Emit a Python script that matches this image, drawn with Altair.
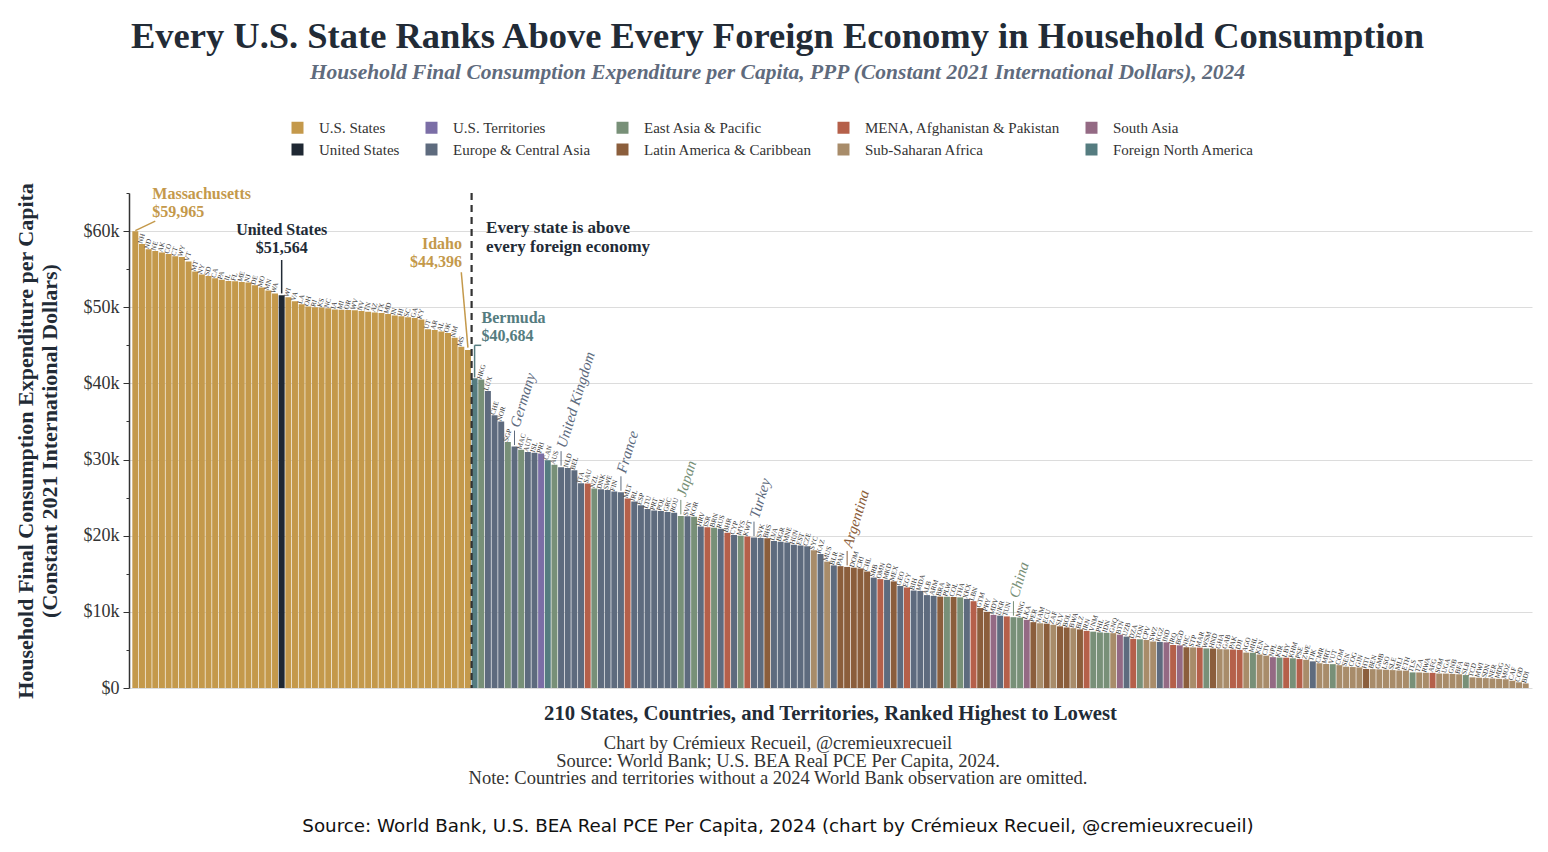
import altair as alt
import pandas as pd

# ---------------- data ----------------
state_codes = ["MA","NH","ND","NE","AK","CO","CT","WY","VT","MT",
               "NY","SD","CA","PA","IL","FL","ME","NJ","DE","MO",
               "MN","WA","US","WI","VA","LA","OH","RI","KS","NC",
               "IA","MI","OR","WV","NV","TN","AZ","TX","MD","IN",
               "HI","SC","GA","KY","UT","AR","AL","OK","NM","MS","ID"]
state_values = [59965, 58300, 57600, 57400, 57200, 57000, 56700, 56600, 56000, 54700,
                54300, 54100, 53800, 53600, 53450, 53400, 53300, 53250, 52900, 52600,
                52200, 51800, 51564, 51300, 50800, 50400, 50100, 50000, 49950, 49850,
                49700, 49680, 49650, 49600, 49500, 49400, 49300, 49250, 49100, 48900,
                48800, 48700, 48600, 48400, 47100, 47000, 46800, 46600, 46000, 44800, 44396]

foreign_codes = ["BMU","HKG","LUX","CHE","NOR","SGP","DEU","MAC","AUT","ISL",
                 "PRI","CAN","AUS","GBR","NLD","BEL","ITA","SAU","NZL","DNK",
                 "SWE","FIN","FRA","MLT","IRL","ESP","LTU","PRT","POL","GRC",
                 "ROU","JPN","SVN","KOR","HRV","ISR","BRN","RUS","BHR","CYP",
                 "MYS","KWT","TUR","SVK","BHS","LVA","BGR","MNE","HUN","EST",
                 "CZE","SYC","KAZ","MUS","BLR","PAN","ARG","DOM","CRI","CHL",
                 "SRB","OMN","MKD","MEX","GEO","EGY","BIH","MDA","ALB","ARM",
                 "BRA","PLW","COL","THA","XKX","LBN","GTM","PRY","MDV","UKR",
                 "TUN","CHN","MNG","LKA","PER","NAM","ECU","ZAF","SLV","BOL",
                 "BWA","BLZ","IRN","VNM","PHL","IDN","GNQ","BTN","UZB","DZA",
                 "TON","CPV","SWZ","KGZ","IND","IRQ","BGD","NIC","STP","MAR",
                 "WSM","HND","GHA","GAB","PAK","DJI","AGO","MHL","KEN","CIV",
                 "NPL","KIR","LBY","KHM","PSE","ZWE","TJK","CMR","MRT","VUT",
                 "COM","SEN","COG","GIN","HTI","BEN","GMB","LSO","SLE","MLI",
                 "ETH","TLS","TZA","RWA","AFG","SOM","UGA","GNB","BFA","SLB",
                 "TCD","MWI","SDN","NER","MDG","MOZ","CAF","COD","BDI"]
foreign_values = [40684, 40500, 39000, 35800, 35000, 32300, 31700, 31300, 31000, 30900,
                  30800, 29900, 29300, 29000, 28900, 28600, 26900, 26850, 26200, 26100,
                  26000, 25800, 25700, 24900, 24500, 24000, 23500, 23300, 23250, 23100,
                  23000, 22600, 22550, 22500, 21200, 21100, 21050, 20900, 20400, 20100,
                  20000, 19900, 19750, 19700, 19650, 19300, 19200, 19100, 18800, 18700,
                  18600, 18100, 17600, 16600, 16100, 16000, 15900, 15800, 15700, 15300,
                  14500, 14300, 14200, 14000, 13400, 13200, 12800, 12750, 12200, 12100,
                  12000, 11980, 11950, 11900, 11700, 11400, 10500, 10000, 9600, 9500,
                  9400, 9300, 9250, 8950, 8650, 8500, 8450, 8300, 8100, 7950,
                  7850, 7700, 7500, 7400, 7300, 7250, 7200, 7000, 6750, 6450,
                  6400, 6300, 6100, 6050, 6000, 5650, 5600, 5350, 5330, 5300,
                  5200, 5180, 5100, 5080, 5050, 5000, 4650, 4630, 4400, 4250,
                  4050, 4000, 3980, 3900, 3800, 3700, 3500, 3250, 3150, 3130,
                  3000, 2800, 2750, 2700, 2500, 2480, 2450, 2400, 2350, 2300,
                  2280, 2050, 2040, 2000, 1990, 1900, 1890, 1850, 1800, 1700,
                  1400, 1350, 1300, 1250, 1200, 1150, 950, 750, 600]
foreign_regions = ["FNA","EAP","ECA","ECA","ECA","EAP","ECA","EAP","ECA","ECA",
                   "TER","FNA","EAP","ECA","ECA","ECA","ECA","MNA","EAP","ECA",
                   "ECA","ECA","ECA","MNA","ECA","ECA","ECA","ECA","ECA","ECA",
                   "ECA","EAP","ECA","EAP","ECA","MNA","EAP","ECA","MNA","ECA",
                   "EAP","MNA","ECA","ECA","LAC","ECA","ECA","ECA","ECA","ECA",
                   "ECA","SSA","ECA","SSA","ECA","LAC","LAC","LAC","LAC","LAC",
                   "ECA","MNA","ECA","LAC","ECA","MNA","ECA","ECA","ECA","ECA",
                   "LAC","EAP","LAC","EAP","ECA","MNA","LAC","LAC","SAS","ECA",
                   "MNA","EAP","EAP","SAS","LAC","SSA","LAC","SSA","LAC","LAC",
                   "SSA","LAC","MNA","EAP","EAP","EAP","SSA","SAS","ECA","MNA",
                   "EAP","SSA","SSA","ECA","SAS","MNA","SAS","LAC","SSA","MNA",
                   "EAP","LAC","SSA","SSA","MNA","MNA","SSA","EAP","SSA","SSA",
                   "SAS","EAP","MNA","EAP","MNA","SSA","ECA","SSA","SSA","EAP",
                   "SSA","SSA","SSA","SSA","LAC","SSA","SSA","SSA","SSA","SSA",
                   "SSA","EAP","SSA","SSA","MNA","SSA","SSA","SSA","SSA","EAP",
                   "SSA","SSA","SSA","SSA","SSA","SSA","SSA","SSA","SSA"]

region_names = {"STA": "U.S. States", "USA": "United States", "TER": "U.S. Territories",
                "ECA": "Europe & Central Asia", "EAP": "East Asia & Pacific",
                "LAC": "Latin America & Caribbean", "MNA": "MENA, Afghanistan & Pakistan",
                "SSA": "Sub-Saharan Africa", "SAS": "South Asia", "FNA": "Foreign North America"}
# legend fills column by column (2 rows x 5 columns)
legend_order = ["U.S. States", "United States",
                "U.S. Territories", "Europe & Central Asia",
                "East Asia & Pacific", "Latin America & Caribbean",
                "MENA, Afghanistan & Pakistan", "Sub-Saharan Africa",
                "South Asia", "Foreign North America"]
legend_colors = ["#C4994B", "#1F2833",
                 "#7B6EA6", "#5E6B7E",
                 "#789078", "#8B5E3C",
                 "#B5604A", "#A88C6A",
                 "#946A84", "#557C80"]

big_labels = {"DEU": "Germany", "GBR": "United Kingdom", "FRA": "France", "JPN": "Japan",
              "TUR": "Turkey", "ARG": "Argentina", "CHN": "China"}
callouts = {"MA": "Massachusetts", "US": "United States", "ID": "Idaho", "BMU": "Bermuda"}

title_text = "Every U.S. State Ranks Above Every Foreign Economy in Household Consumption"
subtitle_text = "Household Final Consumption Expenditure per Capita, PPP (Constant 2021 International Dollars), 2024"
x_title = "210 States, Countries, and Territories, Ranked Highest to Lowest"
y_title = ["Household Final Consumption Expenditure per Capita", "(Constant 2021 International Dollars)"]
caption_lines = ["Chart by Crémieux Recueil, @cremieuxrecueil",
                 "Source: World Bank; U.S. BEA Real PCE Per Capita, 2024.",
                 "Note: Countries and territories without a 2024 World Bank observation are omitted."]
footer_text = "Source: World Bank, U.S. BEA Real PCE Per Capita, 2024 (chart by Crémieux Recueil, @cremieuxrecueil)"
divider_text = ["Every state is above", "every foreign economy"]

# ---------------- table ----------------
codes = state_codes + foreign_codes
values = state_values + foreign_values
regions = ["USA" if c == "US" else "STA" for c in state_codes] + foreign_regions
rows = []
for i, (c, v, r) in enumerate(zip(codes, values, regions)):
    if c in callouts:
        kind, label = "callout", callouts[c]
    elif c in big_labels:
        kind, label = "big", big_labels[c]
    else:
        kind, label = "code", c
    rows.append({"rank": i, "code": c, "value": v, "region": region_names[r],
                 "kind": kind, "label": label, "vfmt": "${:,.0f}".format(v)})
df = pd.DataFrame(rows)

SERIF = "Liberation Serif"
DARK = "#222B36"
GOLD = "#C4994B"
TEAL = "#557C80"

xs = alt.Scale(paddingInner=0.1, paddingOuter=0.5)
ys = alt.Scale(domain=[0, 65000], nice=False, zero=True)
cs = alt.Scale(domain=legend_order, range=legend_colors)


def X(**kw):
    return alt.X("rank:O", scale=xs, axis=None, title=None, **kw)


def Y(field="value:Q"):
    return alt.Y(field, scale=ys, axis=None, title=y_title)


base = alt.Chart(df)

bars = base.mark_bar().encode(
    x=alt.X("rank:O", scale=xs, title=None,
            axis=alt.Axis(labels=False, ticks=False, grid=False, domainColor="#333333",
                          domainWidth=1.5, title=None)),
    y=alt.Y("value:Q", scale=ys, title=y_title,
            axis=alt.Axis(values=[0, 10000, 20000, 30000, 40000, 50000, 60000],
                          labelExpr="datum.value == 0 ? '$0' : '$' + (datum.value / 1000) + 'k'",
                          labelFontSize=18, labelColor="#333333", labelPadding=4,
                          tickSize=6, tickColor="#333333", domainColor="#333333", domainWidth=1.5,
                          gridColor="#dcdcdc", gridWidth=1,
                          title=y_title, titleFontSize=22, titleFontWeight="bold",
                          titleColor=DARK, titlePadding=22)),
    color=alt.Color("region:N", scale=cs,
                    legend=alt.Legend(title=None, orient="none", legendX=161, legendY=-73,
                                      columns=5, columnPadding=24, rowPadding=6,
                                      symbolType="square", symbolSize=144,
                                      symbolStrokeWidth=0, symbolOpacity=1,
                                      labelFontSize=15, labelColor="#333333", labelLimit=400,
                                      labelOffset=14, padding=0)),
)

minor = base.mark_point(opacity=0).encode(
    x=X(),
    y=alt.Y("value:Q", scale=ys, title=None,
            axis=alt.Axis(orient="left", values=[5000, 15000, 25000, 35000, 45000, 55000, 65000],
                          labels=False, tickSize=3, tickColor="#333333", domain=False,
                          gridColor="#f0f0f0", gridWidth=1, title=None)),
)

code_text = base.transform_filter(alt.datum.kind == "code").mark_text(
    angle=287, align="left", baseline="middle", fontSize=7, dy=-2, color="#333333"
).encode(x=X(), y=Y(), text="label:N")

big = base.transform_filter(alt.datum.kind == "big").transform_calculate(
    ly="datum.value + 2600", a="datum.value + 200", b="datum.value + 2100")
big_text = big.mark_text(angle=287, align="left", baseline="middle", fontSize=15,
                         fontStyle="italic").encode(
    x=X(), y=Y("ly:Q"), text="label:N", color=alt.Color("region:N", scale=cs, legend=None))
big_rule = big.mark_rule(strokeWidth=1).encode(
    x=X(), y=Y("a:Q"), y2="b:Q", color=alt.Color("region:N", scale=cs, legend=None))


def callout_text(code, color, dx, dy_name, dy_val, align):
    b = base.transform_filter(alt.datum.code == code)
    name = b.mark_text(align=align, baseline="alphabetic", dx=dx, dy=dy_name, fontSize=16,
                       fontWeight="bold", color=color).encode(x=X(), y=Y(), text="label:N")
    val = b.mark_text(align=align, baseline="alphabetic", dx=dx, dy=dy_val, fontSize=16,
                      fontWeight="bold", color=color).encode(x=X(), y=Y(), text="vfmt:N")
    return [name, val]


def leader(code, color, dr, y1, y2, width=1.5):
    b = base.transform_filter(alt.datum.code == code).transform_calculate(
        r2="datum.rank + (%d)" % dr, ya="datum.value + (%d)" % y1, yb="%d" % y2)
    return b.mark_rule(color=color, strokeWidth=width).encode(
        x=X(), x2="r2", y=Y("ya:Q"), y2="yb:Q")


layers = [bars, minor, code_text, big_rule, big_text]
layers += callout_text("MA", GOLD, 17, -32, -14, "left")
layers += callout_text("US", DARK, 0, -60, -42, "center")
layers += callout_text("ID", GOLD, -6, -101, -83, "right")
layers += callout_text("BMU", TEAL, 7, -55, -37, "left")
layers += [
    leader("MA", GOLD, 3, 100, 61300),
    leader("US", DARK, 0, 250, 56200),
    leader("ID", GOLD, -1, 300, 54600),
    leader("BMU", TEAL, 0, 100, 45000),
    leader("BMU", TEAL, 1, 45000 - 40684, 45000),
]

bm = base.transform_filter(alt.datum.code == "BMU")
dash = bm.mark_rule(strokeDash=[7, 5], strokeWidth=2.2, color="#333333").encode(
    x=X(bandPosition=0), y=alt.Y(datum=65000, scale=ys, axis=None), y2=alt.Y2(datum=0))
divider = bm.mark_text(text=divider_text, align="left", baseline="alphabetic", dx=14.5,
                       fontSize=17, fontWeight="bold", lineHeight=19, color=DARK).encode(
    x=X(bandPosition=0), y=alt.Y(datum=59750, scale=ys, axis=None))
layers += [dash, divider]

cap_df = pd.DataFrame({"n": [1]})
xtitle = alt.Chart(cap_df).mark_text(text=x_title, align="center", baseline="alphabetic",
                                     fontSize=20.7, fontWeight="bold", color=DARK).encode(
    x=alt.value(701.5), y=alt.value(527))
captions = alt.Chart(cap_df).mark_text(text=caption_lines, align="center", baseline="alphabetic",
                                       fontSize=18.5, lineHeight=17.5, color="#333333").encode(
    x=alt.value(649), y=alt.value(556))
footer = alt.Chart(cap_df).mark_text(text=footer_text, align="center", baseline="alphabetic",
                                     fontSize=18.3, font="DejaVu Sans", color="#111111").encode(
    x=alt.value(649), y=alt.value(639))
layers += [xtitle, captions, footer]

chart = alt.layer(*layers).resolve_axis(y="independent").properties(
    width=1403, height=495,
    padding={"left": 121, "top": 185, "right": 8, "bottom": 156},
    autosize=alt.AutoSizeParams(type="none"),
    title=alt.Title(text=title_text, subtitle=subtitle_text, fontSize=36.5, fontWeight="bold",
                    color=DARK, subtitleFontSize=21.5, subtitleFontStyle="italic",
                    subtitleFontWeight="bold", subtitleColor="#5F6B7D", subtitlePadding=6,
                    anchor="middle", dx=-53, offset=37, font=SERIF, subtitleFont=SERIF),
).configure(font=SERIF, background="white").configure_view(stroke=None)

chart.save("out.html", embed_options={"renderer": "svg", "actions": False})
